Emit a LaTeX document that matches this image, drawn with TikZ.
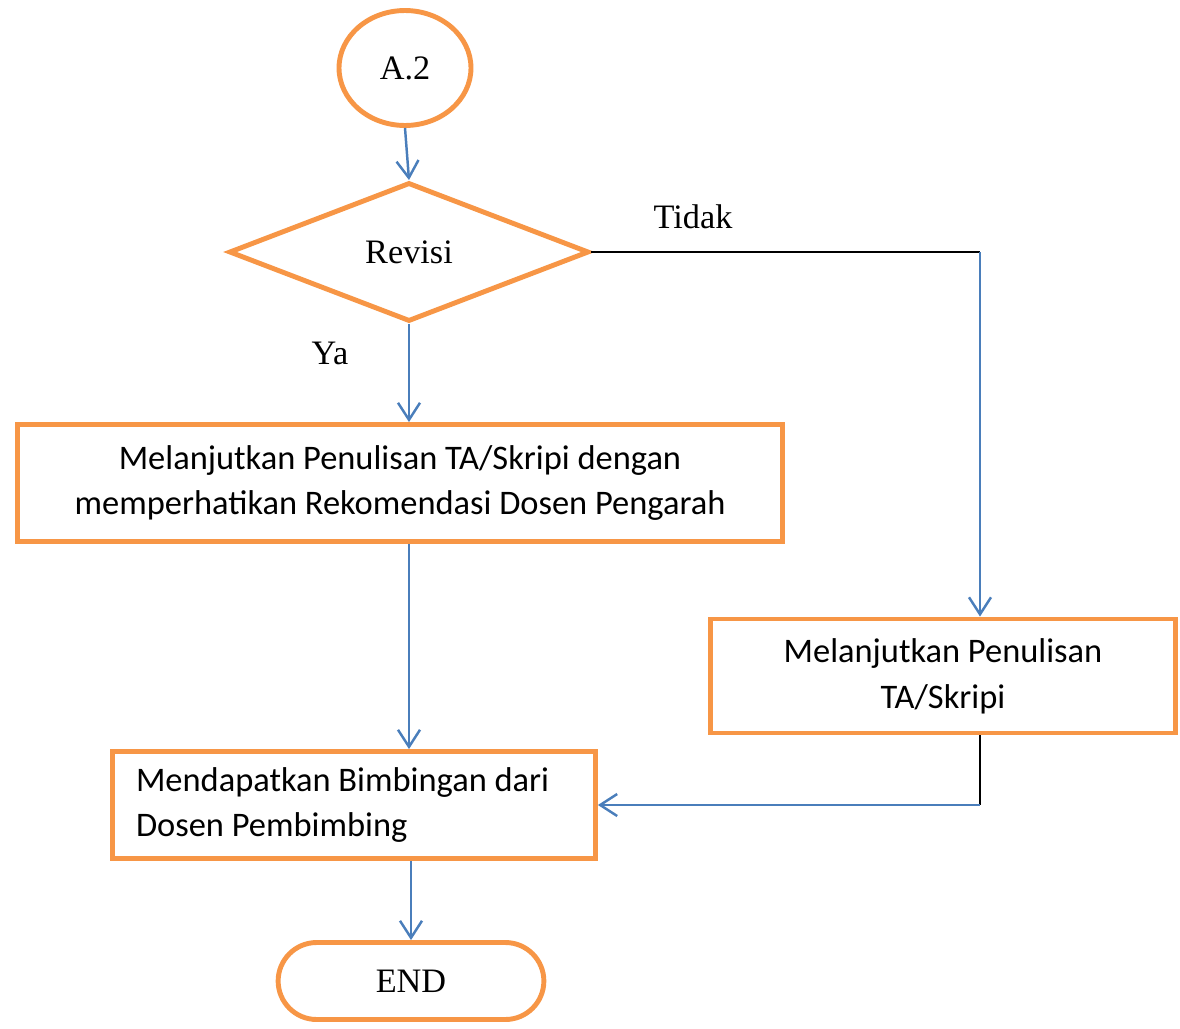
\documentclass[tikz,border=0pt]{standalone}
\usepackage{fontspec}
\setmainfont{Liberation Serif}
\newfontfamily\calibri{Carlito}
\usepackage{tikz}
\usetikzlibrary{arrows.meta, positioning, shapes.geometric, shapes.misc, calc}

\definecolor{boxorange}{HTML}{F79646}
\definecolor{lineblue}{HTML}{4A7EBB}

\tikzset{
  orangeline/.style={draw=boxorange, line width=2.8pt},
  labeltext/.style={font=\fontsize{19.5}{23}\selectfont},
  boxtext/.style={font=\calibri\fontsize{19.6}{26.1}\selectfont},
  bluearrow/.style={draw=lineblue, line width=1.4pt, -{Straight Barb[length=0.34cm, width=0.44cm, line width=1.4pt]}},
  blackline/.style={draw=black, line width=1.1pt}
}

\begin{document}
\begin{tikzpicture}[x=0.02cm, y=-0.02cm]

\useasboundingbox (0,0) rectangle (1180,1028);

\node[ellipse, orangeline, labeltext, minimum width=2.64cm, minimum height=2.3cm, inner sep=0pt] (a2) at (405,68) {A.2};
\node[diamond, orangeline, labeltext, minimum width=7.2cm, minimum height=2.78cm, inner sep=0pt] (revisi) at (409,252) {Revisi};
\node[labeltext] (tidak) at (693,217) {Tidak};
\node[labeltext] (ya) at (330,353) {Ya};

\node[rectangle, orangeline, boxtext, align=center, minimum width=15.3cm, minimum height=2.34cm] (lanjut) at (400,483) {Melanjutkan Penulisan TA/Skripi dengan\\memperhatikan Rekomendasi Dosen Pengarah};
\node[rectangle, orangeline, boxtext, align=center, minimum width=9.3cm, minimum height=2.28cm] (lanjutb) at (943,676) {Melanjutkan Penulisan\\TA/Skripi};
\node[rectangle, orangeline, boxtext, align=flush left, text width=8.72cm, inner xsep=0.47cm, minimum width=9.66cm, minimum height=2.14cm] (bimbing) at (354,805) {Mendapatkan Bimbingan dari\\Dosen Pembimbing};
\node[rounded rectangle, orangeline, labeltext, minimum width=5.55cm, minimum height=1.54cm] (end) at (411,981) {END};

\coordinate (tk) at (980,252);
\coordinate (bk) at (tk |- bimbing.east);

\draw[bluearrow] (a2.south) -- (revisi.north);
\draw[blackline] (revisi.east) -- (tk);
\draw[bluearrow] (tk) -- (tk |- lanjutb.north);
\draw[bluearrow] (revisi.south) -- (revisi.south |- lanjut.north);
\draw[bluearrow] (revisi.south |- lanjut.south) -- (revisi.south |- bimbing.north);
\draw[blackline] (tk |- lanjutb.south) -- (bk);
\draw[bluearrow] (bk) -- (bimbing.east);
\draw[bluearrow] (end.north |- bimbing.south) -- (end.north);

\end{tikzpicture}
\end{document}
